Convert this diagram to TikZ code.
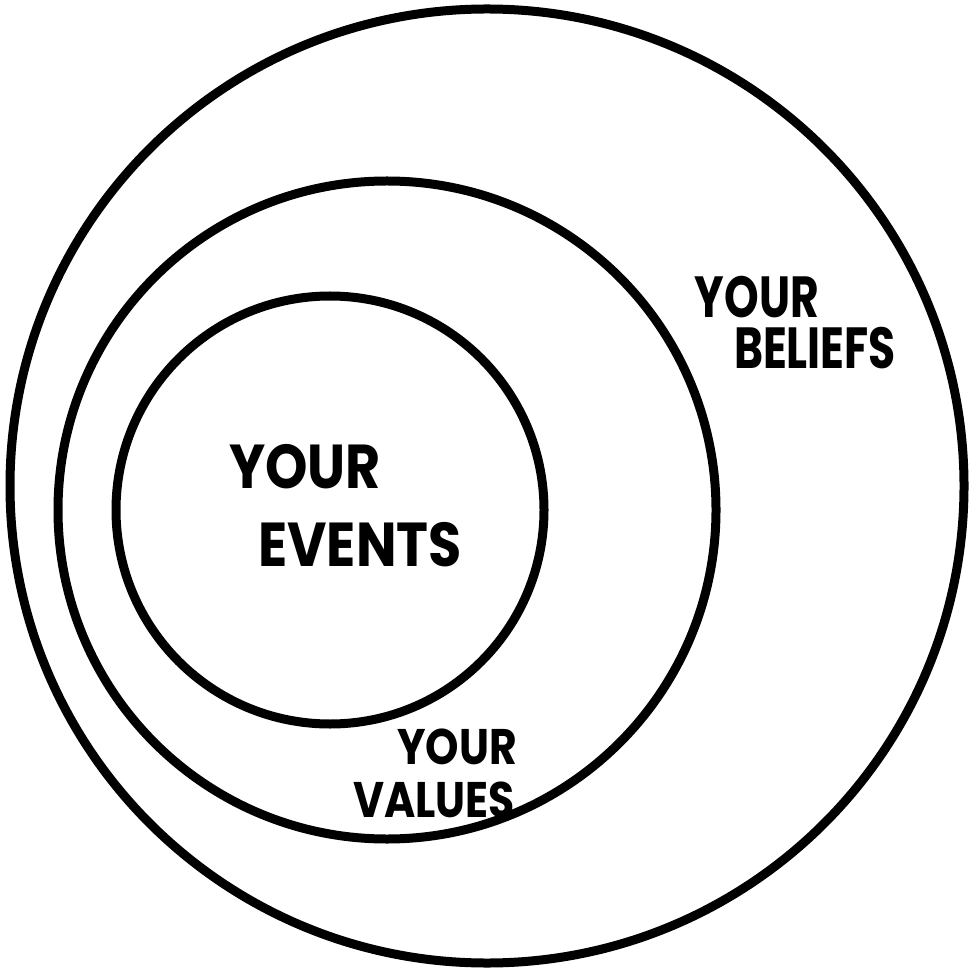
\documentclass[tikz,border=0pt]{standalone}
\usepackage{fontspec}
\newfontfamily\eventsfont{Poppins}[FakeStretch=0.87]
\newfontfamily\beliefsfont{Poppins}[FakeStretch=0.76]
\newfontfamily\valuesfont{Poppins}[FakeStretch=0.85]
\usetikzlibrary{positioning}
\tikzset{
  ring/.style={circle, draw=black, line width=4.5pt, inner sep=0pt},
  hand label/.style={inner sep=0pt, anchor=center},
  events label/.style={hand label, font=\eventsfont\bfseries\fontsize{31}{34}\selectfont},
  beliefs label/.style={hand label, font=\beliefsfont\bfseries\fontsize{29}{32}\selectfont},
  values label/.style={hand label, font=\valuesfont\bfseries\fontsize{25}{28}\selectfont}
}
\begin{document}
\begin{tikzpicture}[x=0.5pt, y=-0.5pt]
  \useasboundingbox (0,0) rectangle (972,977);
  % the three rings
  \node[ring, minimum size=477pt] (beliefs) at (487,486) {};
  \node[ring, minimum size=329pt] (values) at (387,510) {};
  \node[ring, minimum size=214pt] (events) at (330,510) {};
  % labels
  \node[beliefs label] (beliefs top) at (757,297) {YOUR};
  \node[beliefs label] (beliefs bottom) at (815,348) {BELIEFS};
  \node[events label] (events top) at (305,467) {YOUR};
  \node[events label] (events bottom) at (360,545) {EVENTS};
  \node[values label] (values top) at (457,747) {YOUR};
  \node[values label] (values bottom) at (434,800) {VALUES};
\end{tikzpicture}
\end{document}
